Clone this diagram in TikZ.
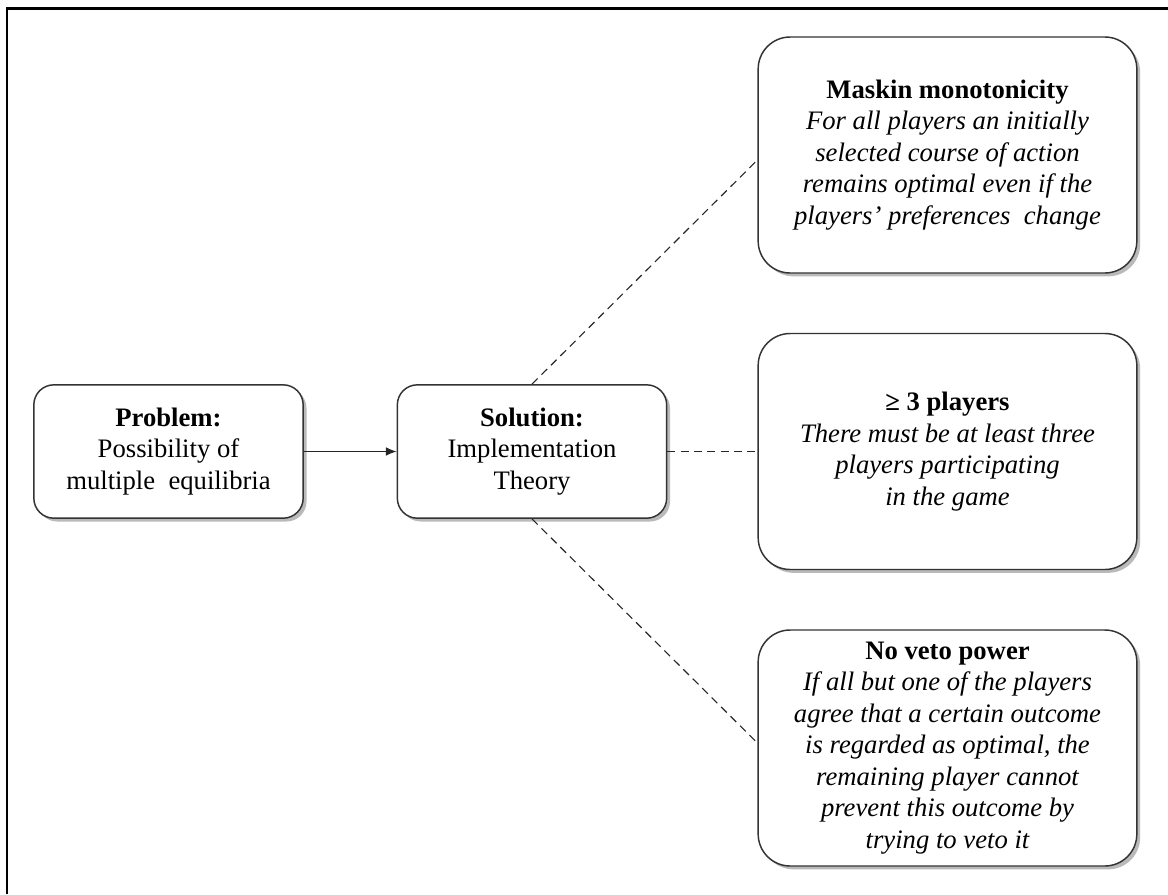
\documentclass[tikz,border=0pt]{standalone}
\usepackage{fontspec}
\setmainfont{Liberation Serif}
\usetikzlibrary{arrows.meta,shadows,calc}

\tikzset{
  box/.style={draw=black!80, line width=1.1pt, fill=white, align=center,
    font=\fontsize{20}{23.6}\selectfont,
    drop shadow={shadow xshift=2.5pt, shadow yshift=-2.5pt, fill=black!60, opacity=0.45}},
  smallbox/.style={box, rounded corners=15pt, minimum width=202pt, minimum height=100pt},
  bigbox/.style={box, rounded corners=24pt, minimum width=284pt, minimum height=177pt},
  link/.style={draw=black!85, line width=0.85pt},
  dashlink/.style={link, dash pattern=on 6pt off 4pt},
  frame/.style={draw=black, line width=1.6pt}
}

\begin{document}
\begin{tikzpicture}[x=0.75pt, y=-0.75pt]
  \useasboundingbox (0,0) rectangle (1168,894);
  \fill[white] (0,0) rectangle (1168,894);

  % outer frame
  \coordinate (fbl) at (7,894);
  \coordinate (ftl) at (7,8.5);
  \coordinate (ftr) at (1168,8.5);
  \draw[frame] (fbl) -- (ftl) -- (ftr);

  % main chain
  \node[smallbox] (prob) at (168.5,451.5)
    {\textbf{Problem:}\\Possibility of\\multiple\ \ equilibria};
  \node[smallbox] (sol) at (532,451.5)
    {\textbf{Solution:}\\Implementation\\Theory};

  % conditions
  \node[bigbox] (mask) at (947.5,155)
    {\textbf{Maskin monotonicity}\\\itshape For all players an initially\\\itshape selected course of action\\\itshape remains optimal even if the\\\itshape players’ preferences\ \ change};
  \node[bigbox] (three) at (947.5,451.5)
    {\textbf{≥ 3 players}\\\itshape There must be at least three\\\itshape players participating\\\itshape in the game};
  \node[bigbox] (veto) at (947.5,748)
    {\textbf{No veto power}\\\itshape If all but one of the players\\\itshape agree that a certain outcome\\\itshape is regarded as optimal, the\\\itshape remaining player cannot\\\itshape prevent this outcome by\\\itshape trying to veto it};

  % connectors
  \draw[link, -{Latex[length=8pt, width=6.5pt]}] (prob.east) -- (sol.west);
  \draw[dashlink] (sol.north) -- ($(mask.west)+(0,5)$);
  \draw[dashlink] (sol.east) -- (three.west);
  \draw[dashlink] (sol.south) -- ($(veto.west)+(0,-5)$);
\end{tikzpicture}
\end{document}
